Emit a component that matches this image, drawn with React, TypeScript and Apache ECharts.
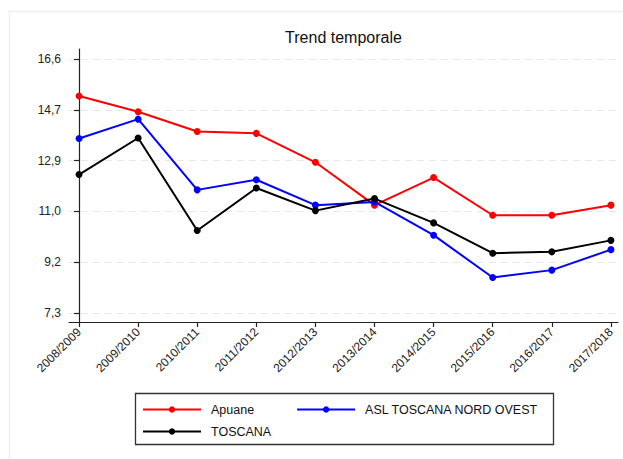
import React, { useEffect, useRef } from "react";
import * as echarts from "echarts";

const years = [
  "2008/2009", "2009/2010", "2010/2011", "2011/2012", "2012/2013",
  "2013/2014", "2014/2015", "2015/2016", "2016/2017", "2017/2018",
];
const apuane = [15.25, 14.67, 13.95, 13.88, 12.82, 11.25, 12.26, 10.88, 10.88, 11.25];
const aslNordOvest = [13.69, 14.40, 11.81, 12.18, 11.25, 11.37, 10.15, 8.60, 8.87, 9.62];
const toscana = [12.37, 13.71, 10.32, 11.88, 11.05, 11.49, 10.60, 9.49, 9.54, 9.96];
const yTicks = [7.3, 9.16, 11.02, 12.88, 14.74, 16.6];

const FONT = "'Liberation Sans', Arial, sans-serif";

function toPairs(vals: number[]) {
  return vals.map((v, i) => [i, v]);
}

export default function App() {
  const ref = useRef<HTMLDivElement>(null);
  useEffect(() => {
    if (!ref.current) return;
    const chart = echarts.init(ref.current, undefined, { renderer: "svg" });
    const mkSeries = (name: string, vals: number[], color: string) => ({
      name,
      type: "line",
      data: toPairs(vals),
      symbol: "circle",
      symbolSize: 7,
      lineStyle: { color, width: 2 },
      itemStyle: { color },
      z: 3,
    });
    chart.setOption({
      animation: false,
      textStyle: { fontFamily: FONT },
      grid: { left: 69, right: 5, top: 49, bottom: 137, containLabel: false },
      xAxis: {
        type: "value",
        min: -0.17,
        max: 9.12,
        axisLine: { show: true, lineStyle: { color: "#222", width: 1.2 } },
        axisTick: {
          show: true,
          length: 5,
          customValues: years.map((_, i) => i),
          lineStyle: { color: "#222", width: 1.2 },
        },
        axisLabel: {
          customValues: years.map((_, i) => i),
          formatter: (v: number) => years[Math.round(v)] ?? "",
          rotate: 45,
          margin: 8,
          fontSize: 12,
          color: "#222",
          fontFamily: FONT,
        },
        splitLine: { show: false },
      },
      yAxis: {
        type: "value",
        min: 6.97,
        max: 16.97,
        axisLine: { show: true, lineStyle: { color: "#222", width: 1.2 } },
        axisTick: {
          show: true,
          length: 5,
          customValues: yTicks,
          lineStyle: { color: "#222", width: 1.2 },
        },
        axisLabel: {
          customValues: yTicks,
          formatter: (v: number) => v.toFixed(1).replace(".", ","),
          margin: 8,
          fontSize: 12,
          color: "#222",
          fontFamily: FONT,
        },
        splitLine: {
          show: true,
          lineStyle: { color: "#e8e8e8", type: [7, 5], width: 1 },
        },
      },
      legend: [
        {
          data: ["Apuane", "ASL TOSCANA NORD OVEST"],
          left: 142,
          top: 403,
          itemWidth: 58,
          itemHeight: 8,
          itemGap: 42,
          padding: 0,
          selectedMode: false,
          textStyle: { fontSize: 12.5, color: "#111", fontFamily: FONT, padding: [0, 0, 0, 5] },
        },
        {
          data: ["TOSCANA"],
          left: 142,
          top: 425,
          itemWidth: 58,
          itemHeight: 8,
          padding: 0,
          selectedMode: false,
          textStyle: { fontSize: 12.5, color: "#111", fontFamily: FONT, padding: [0, 0, 0, 5] },
        },
      ],
      graphic: [
        {
          type: "rect",
          shape: { x: 9.5, y: 11.5, width: 720, height: 520 },
          style: { fill: "none", stroke: "#eef0f0", lineWidth: 1.5 },
          silent: true,
          z: -1,
        },
        {
          type: "rect",
          shape: { x: 135.5, y: 393.5, width: 418, height: 51 },
          style: { fill: "none", stroke: "#333", lineWidth: 1.3 },
          silent: true,
        },
        {
          type: "text",
          x: 343.5,
          y: 37,
          style: {
            text: "Trend temporale",
            textAlign: "center",
            textVerticalAlign: "middle",
            font: `16px ${FONT}`,
            fill: "#111",
          },
        },
      ],
      series: [
        mkSeries("Apuane", apuane, "#ff0000"),
        mkSeries("ASL TOSCANA NORD OVEST", aslNordOvest, "#0000ff"),
        mkSeries("TOSCANA", toscana, "#000000"),
      ],
    });
    return () => chart.dispose();
  }, []);
  return (
    <div
      ref={ref}
      style={{ position: "absolute", left: 0, top: 0, width: 623, height: 459 }}
    />
  );
}
